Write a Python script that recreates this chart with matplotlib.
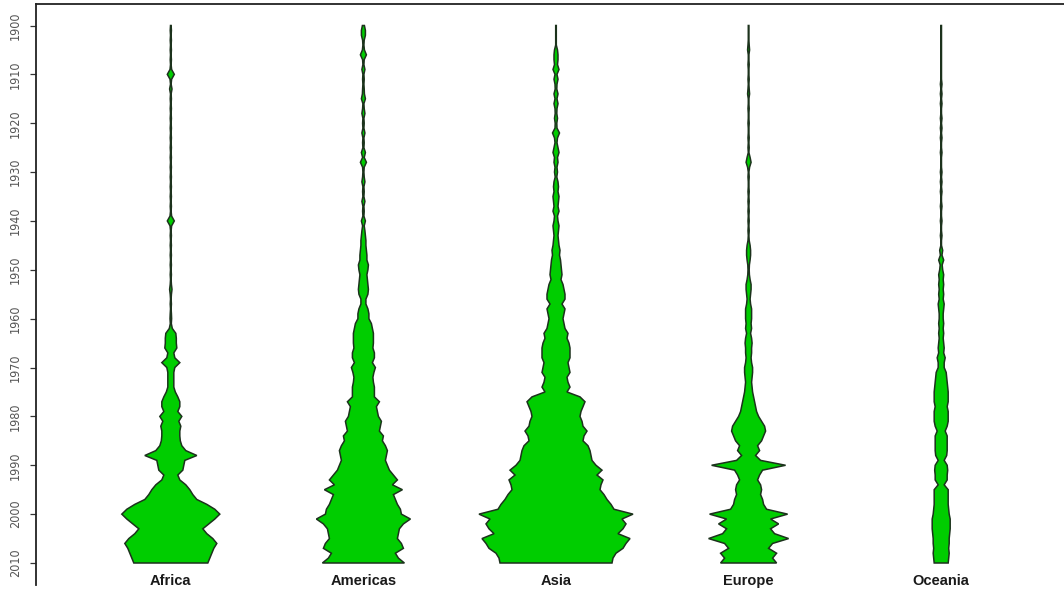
import numpy as np
import matplotlib
matplotlib.use("Agg")
import matplotlib.pyplot as plt
from matplotlib import font_manager

# ---------------- data ----------------
years = list(range(1900, 2011))
categories = ["Africa", "Americas", "Asia", "Europe", "Oceania"]
ytick_years = list(range(1900, 2011, 10))

# bean half-widths (density, drawn in screen-pixel-like units) per year 1900..2010
africa = [
    0.3, 0.6, 0.3, 0.6, 0.3, 0.6, 0.3, 0.6, 0.3, 0.8,
    3.5, 0.8, 0.3, 1.2, 0.3, 0.6, 0.3, 0.6, 0.3, 0.6,
    0.3, 0.6, 0.3, 0.6, 0.3, 0.6, 0.3, 0.6, 0.3, 0.6,
    0.3, 0.6, 0.3, 0.6, 0.3, 0.6, 0.3, 0.6, 0.3, 0.8,
    3.5, 0.8, 0.3, 0.6, 0.3, 0.6, 0.3, 0.6, 0.3, 0.6,
    0.3, 0.6, 0.3, 0.6, 1.2, 0.6, 0.3, 0.6, 0.3, 0.6,
    0.8, 0.5, 1.5, 5.0, 5.5, 5.5, 6.0, 3.0, 4.0, 9.0,
    4.0, 3.0, 3.0, 3.0, 3.0, 4.5, 7.0, 9.0, 9.0, 7.0,
    11.0, 8.0, 10.0, 9.0, 9.0, 9.5, 11.0, 15.0, 26.0, 14.0,
    13.0, 12.0, 7.0, 9.0, 15.0, 19.0, 22.0, 26.0, 36.0, 44.0,
    49.0, 44.0, 38.0, 32.0, 36.0, 42.0, 46.0, 43.0, 41.0, 39.0, 37.0,
]
americas = [
    1.0, 2.0, 2.0, 0.8, 0.5, 1.0, 3.0, 0.8, 0.5, 1.5,
    0.5, 0.8, 0.5, 0.8, 1.0, 2.0, 0.5, 0.8, 1.5, 0.5,
    0.8, 0.5, 1.5, 0.5, 0.8, 0.5, 2.0, 0.8, 3.0, 0.8,
    0.5, 0.8, 1.5, 0.5, 0.8, 0.5, 1.5, 0.5, 0.8, 0.5,
    2.0, 0.8, 1.5, 2.0, 2.5, 2.5, 3.0, 3.5, 3.5, 5.0,
    4.5, 3.5, 4.0, 4.5, 5.0, 4.5, 2.5, 2.5, 4.5, 5.5,
    5.5, 8.0, 9.0, 10.0, 10.0, 10.0, 9.5, 11.0, 11.0, 9.0,
    12.0, 10.5, 9.5, 10.0, 11.0, 11.0, 11.0, 16.0, 13.0, 14.0,
    15.0, 18.0, 17.0, 16.0, 20.0, 19.0, 22.0, 24.0, 23.0, 22.0,
    24.0, 26.0, 30.0, 34.0, 29.0, 39.0, 30.0, 32.0, 34.0, 37.0,
    38.0, 47.0, 40.0, 36.0, 35.0, 34.0, 38.0, 40.0, 32.0, 35.0, 41.0,
]
asia = [
    0.3, 0.3, 0.3, 0.3, 0.3, 1.5, 2.0, 2.0, 1.5, 3.0,
    1.0, 2.0, 1.0, 0.8, 2.0, 1.0, 2.0, 1.0, 0.8, 1.5,
    0.8, 1.0, 3.5, 1.5, 1.0, 2.0, 3.0, 1.5, 2.0, 1.0,
    1.5, 0.8, 2.0, 2.5, 2.0, 3.0, 2.5, 2.0, 3.0, 1.5,
    2.0, 3.0, 2.5, 2.0, 2.5, 3.0, 4.0, 3.5, 4.5, 5.0,
    5.5, 6.0, 5.0, 7.0, 8.0, 9.0, 9.0, 6.0, 9.0, 8.0,
    7.0, 8.0, 9.0, 12.0, 11.0, 13.0, 14.0, 14.0, 14.0, 12.0,
    13.0, 14.0, 11.0, 12.0, 14.0, 11.0, 24.0, 29.0, 27.0, 25.0,
    24.0, 26.0, 27.0, 31.0, 28.0, 27.0, 32.0, 34.0, 35.0, 36.0,
    40.0, 46.0, 41.0, 47.0, 45.0, 44.0, 48.0, 51.0, 55.0, 58.0,
    77.0, 66.0, 70.0, 67.0, 62.0, 74.0, 70.0, 67.0, 60.0, 57.0, 56.0,
]
europe = [
    0.3, 0.3, 0.3, 0.3, 0.6, 1.0, 0.3, 0.3, 0.6, 0.3,
    0.3, 0.6, 0.3, 0.6, 1.0, 0.3, 0.3, 0.6, 0.3, 0.3,
    0.6, 0.3, 0.3, 0.6, 0.3, 0.6, 0.3, 1.5, 2.5, 1.0,
    0.3, 0.6, 0.3, 0.3, 0.6, 0.3, 0.6, 0.3, 0.6, 0.3,
    0.6, 0.3, 0.6, 0.3, 0.6, 1.5, 2.0, 2.0, 1.5, 0.8,
    0.6, 0.8, 1.5, 2.5, 2.5, 2.0, 1.5, 2.0, 3.0, 3.0,
    3.0, 2.5, 3.0, 2.0, 3.0, 3.5, 3.0, 3.0, 2.5, 3.0,
    4.0, 4.0, 3.5, 3.0, 3.5, 4.0, 5.0, 6.0, 7.0, 8.0,
    10.0, 13.0, 16.0, 17.0, 15.0, 13.0, 9.0, 11.0, 7.0, 12.0,
    37.0, 14.0, 11.0, 9.0, 12.0, 13.0, 12.0, 14.0, 15.0, 18.0,
    39.0, 22.0, 30.0, 22.0, 26.0, 40.0, 24.0, 20.0, 28.0, 24.0, 28.0,
]
oceania = [
    0.3, 0.3, 0.3, 0.3, 0.3, 0.3, 0.3, 0.3, 0.3, 0.3,
    0.3, 0.3, 0.8, 0.3, 0.8, 0.3, 0.8, 0.3, 0.3, 0.8,
    0.3, 0.8, 0.3, 0.8, 0.3, 0.3, 0.8, 0.3, 0.3, 0.3,
    0.8, 0.3, 0.8, 0.3, 0.8, 0.3, 0.3, 0.8, 0.3, 0.3,
    0.8, 0.3, 0.3, 0.8, 0.3, 0.3, 1.5, 0.8, 2.5, 1.0,
    1.5, 2.5, 2.0, 2.5, 2.0, 2.5, 2.0, 3.0, 2.5, 2.0,
    2.0, 2.5, 2.0, 2.5, 2.0, 2.5, 3.0, 2.5, 4.0, 3.0,
    3.0, 5.0, 5.5, 6.0, 6.5, 7.0, 7.0, 7.0, 6.0, 7.0,
    7.0, 7.0, 6.0, 4.0, 6.0, 6.0, 6.0, 6.0, 5.5, 3.0,
    6.0, 6.5, 6.0, 6.0, 3.0, 7.0, 7.0, 7.0, 7.0, 7.5,
    8.0, 9.0, 9.0, 9.0, 8.5, 8.0, 8.0, 7.5, 8.0, 7.5, 7.0,
]
beans = [africa, americas, asia, europe, oceania]

# ---------------- style ----------------
fill_color = "#00CD00"
edge_color = "#1c321c"
W, H, DPI = 1064, 592, 100

fig = plt.figure(figsize=(W / DPI, H / DPI), dpi=DPI)
fig.patch.set_facecolor("white")

left_px, right_px, top_px, bottom_px = 36, 1076, 4, 584.5
ax = fig.add_axes([left_px / W, (H - bottom_px) / H,
                   (right_px - left_px) / W, (bottom_px - top_px) / H])
ax.set_xlim(0.3, 5.7)
ax.set_ylim(2014.4, 1895.6)

px_per_unit = (right_px - left_px) / (5.7 - 0.3)

yrs = np.array(years, dtype=float)
for i, w in enumerate(beans):
    pos = i + 1
    hw = np.array(w) / px_per_unit
    xs = np.concatenate([pos + hw, (pos - hw)[::-1]])
    ys = np.concatenate([yrs, yrs[::-1]])
    ax.fill(xs, ys, facecolor=fill_color, edgecolor=edge_color,
            linewidth=1.1, joinstyle="miter", zorder=2)

# fonts
fonts = font_manager.fontManager.ttflist
names = {f.name for f in fonts}
tick_kw = dict(family="Liberation Sans", fontsize=9)
if "Liberation Sans Narrow" in names:
    tick_kw = dict(family="Liberation Sans Narrow", fontsize=10.5)
elif any(f.name == "DejaVu Sans" and f.stretch == "condensed" for f in fonts):
    tick_kw = dict(family="DejaVu Sans", fontsize=9, fontstretch="condensed")

ax.set_yticks(ytick_years)
ax.set_yticklabels([str(y) for y in ytick_years], rotation=90, va="center",
                   color="#555555", **tick_kw)
ax.tick_params(axis="y", direction="out", length=4, width=0.9, pad=6, color="#333333")
ax.set_xticks([])

for i, name in enumerate(categories):
    ax.text(i + 1, 2013.7, name, ha="center", va="center", fontsize=10.5,
            fontweight="bold", family="Liberation Sans", color="#1a1a1a",
            clip_on=False)

for s in ["bottom", "right"]:
    ax.spines[s].set_visible(False)
ax.spines["top"].set_linewidth(1.3)
ax.spines["left"].set_linewidth(1.3)
ax.spines["top"].set_color("#222222")
ax.spines["left"].set_color("#222222")

fig.savefig("out.png", dpi=DPI, facecolor="white")
